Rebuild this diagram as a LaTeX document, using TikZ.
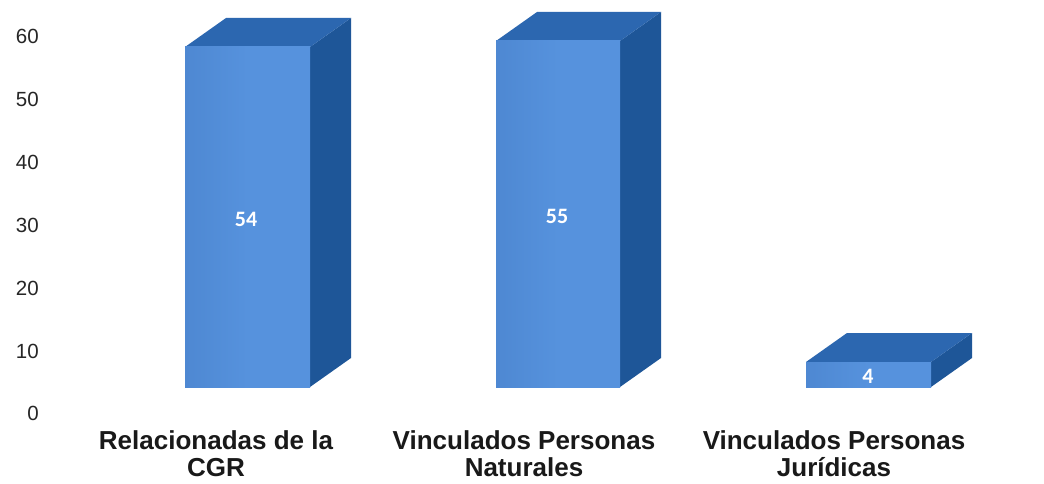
\documentclass[tikz,border=0pt]{standalone}
\usepackage{fontspec}
\setmainfont{Liberation Sans}
\newfontfamily\valfont{Carlito}
\definecolor{frontc}{RGB}{86,146,221}
\definecolor{frontd}{RGB}{78,136,210}
\definecolor{topc}{RGB}{44,103,176}
\definecolor{sidec}{RGB}{30,86,152}
\tikzset{
  axlab/.style={anchor=east, font=\fontsize{20.5}{22}\selectfont, text=black!85, inner sep=0pt},
  catlab/.style={align=center, font=\bfseries\fontsize{26}{27.5}\selectfont, text=black!90, inner sep=0pt, anchor=north},
  vallab/.style={font=\valfont\bfseries\fontsize{22}{24}\selectfont, text=white, inner sep=0pt},
  frontface/.style={fill=frontc},
  topface/.style={fill=topc},
  sideface/.style={fill=sidec}
}
\newcommand{\mybar}[3]{% left, right, top
  \fill[sideface] (#2,387) -- ++(41,-29) -- (#2+41,#3-29) -- (#2,#3) -- cycle;
  \fill[topface] (#1,#3) -- ++(41,-29) -- (#2+41,#3-29) -- (#2,#3) -- cycle;
  \shade[left color=frontd, right color=frontc, middle color=frontc] (#1,#3) rectangle (#2,387);
}
\begin{document}
\begin{tikzpicture}[x=1pt,y=-1pt]
\useasboundingbox (0,0) rectangle (1044,484);
\fill[white] (0,0) rectangle (1044,484);
% axis labels
\node[axlab] (y60) at (39,36) {60};
\node[axlab] (y50) at (39,99) {50};
\node[axlab] (y40) at (39,162) {40};
\node[axlab] (y30) at (39,225) {30};
\node[axlab] (y20) at (39,288) {20};
\node[axlab] (y10) at (39,351) {10};
\node[axlab] (y0) at (39,413) {0};
% bars
\mybar{185}{310}{47}
\mybar{496}{620}{41}
\mybar{806}{931}{362}
% values
\node[vallab] (v1) at (246,219) {54};
\node[vallab] (v2) at (557,216) {55};
\node[vallab] (v3) at (868,376) {4};
% categories
\node[catlab] (c1) at (216,430) {Relacionadas de la\\CGR};
\node[catlab] (c2) at (524,430) {Vinculados Personas\\Naturales};
\node[catlab] (c3) at (834,430) {Vinculados Personas\\Jurídicas};
\end{tikzpicture}
\end{document}
